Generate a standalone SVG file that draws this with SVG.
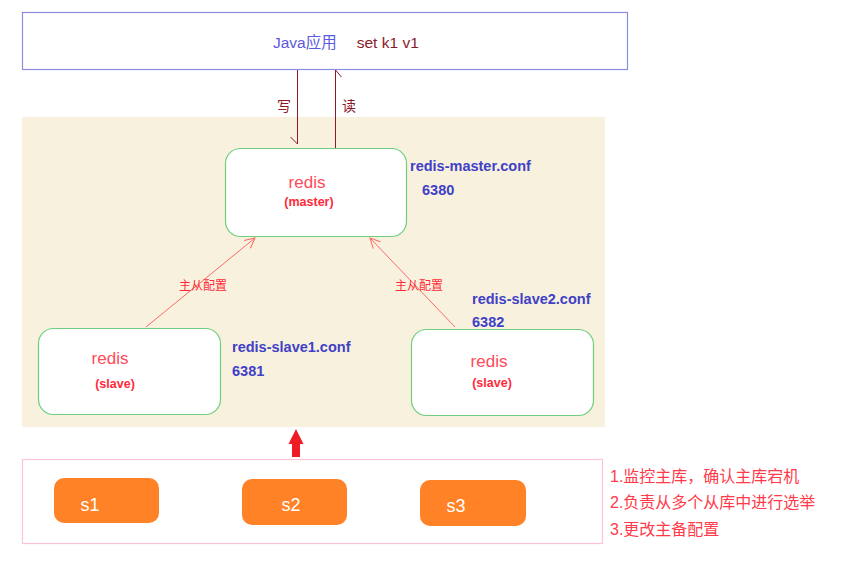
<svg xmlns="http://www.w3.org/2000/svg" width="847" height="567" viewBox="0 0 847 567">
<defs>
<style>
text{font-family:"Liberation Sans","Noto Sans CJK SC",sans-serif}
.node{fill:#fff;stroke:#6fcf7f;stroke-width:1.2}
.redis{fill:#ff4a5a;font-size:17px;text-anchor:middle}
.role{fill:#ff2a3a;font-size:12.5px;font-weight:bold;text-anchor:middle}
.conf{fill:#4040c8;font-size:14.5px;font-weight:bold}
.rel{fill:#ff2a3a;font-size:12px}
.rw{fill:#8b1a2a;font-size:14px}
.sbox{fill:#ff8226}
.stxt{fill:#fff;font-size:18px;text-anchor:middle}
.note{fill:#ff3a4a;font-size:16px}
.link{stroke:#ff6a6a;stroke-width:1;fill:none;marker-end:url(#open)}
.rwline{stroke:#8b1a2a;stroke-width:1;fill:none}
</style>
<marker id="open" markerWidth="12" markerHeight="12" refX="11" refY="6" orient="auto" markerUnits="userSpaceOnUse">
<path d="M1,1 L11,6 L1,11" fill="none" stroke="#ff6a6a" stroke-width="1"/>
</marker>
</defs>
<rect width="847" height="567" fill="#fff"/>
<rect x="22" y="117" width="583" height="310" fill="#f8f1dd"/>
<g id="java">
<rect x="22.5" y="12.5" width="605" height="57" fill="#fff" stroke="#8c8ce0" stroke-width="1.2"/>
<text x="273" y="48" font-size="15.5"><tspan fill="#5a5ae0">Java应用</tspan><tspan fill="#8b1a2a" dx="20">set k1 v1</tspan></text>
</g>
<g id="master">
<rect class="node" x="225.5" y="148.5" width="181" height="88" rx="15"/>
<text class="redis" x="307" y="188">redis</text>
<text class="role" x="309" y="206">(master)</text>
<text class="conf" x="410" y="171">redis-master.conf</text>
<text class="conf" x="422" y="195">6380</text>
</g>
<g id="slave1">
<rect class="node" x="38.5" y="328.5" width="182" height="86" rx="15"/>
<text class="redis" x="110" y="364">redis</text>
<text class="role" x="115" y="388">(slave)</text>
<text class="conf" x="232" y="352">redis-slave1.conf</text>
<text class="conf" x="232" y="376">6381</text>
</g>
<g id="slave2">
<rect class="node" x="411.5" y="329.5" width="182" height="86" rx="15"/>
<text class="redis" x="489" y="367">redis</text>
<text class="role" x="492" y="387">(slave)</text>
<text class="conf" x="472" y="304">redis-slave2.conf</text>
<text class="conf" x="472" y="327">6382</text>
</g>
<g id="connectors">
<path class="rwline" d="M297.5,70 V144 M290.5,137 L297.5,144"/>
<path class="rwline" d="M335.5,148 V70 M335.5,70 L341.5,77"/>
<text class="rw" x="277" y="111">写</text>
<text class="rw" x="342" y="111">读</text>
<line class="link" x1="146" y1="327" x2="255" y2="238"/>
<line class="link" x1="455" y1="327" x2="370" y2="238"/>
<text class="rel" x="179" y="290">主从配置</text>
<text class="rel" x="395" y="290">主从配置</text>
<path d="M296,429 L303.5,444 L300,444 L300,457 L292,457 L292,444 L288.5,444 Z" fill="#ee1c25"/>
</g>
<g id="sentinels">
<rect x="22.5" y="459.5" width="580" height="84" fill="#fff" stroke="#ffc3d3" stroke-width="1.2"/>
<g id="s1"><rect class="sbox" x="54" y="478" width="105" height="45" rx="10"/><text class="stxt" x="90" y="511">s1</text></g>
<g id="s2"><rect class="sbox" x="242" y="479" width="105" height="46" rx="10"/><text class="stxt" x="291" y="511">s2</text></g>
<g id="s3"><rect class="sbox" x="420" y="480" width="106" height="46" rx="10"/><text class="stxt" x="456" y="512">s3</text></g>
</g>
<g id="notes">
<text class="note" x="610" y="482">1.监控主库，确认主库宕机</text>
<text class="note" x="610" y="508">2.负责从多个从库中进行选举</text>
<text class="note" x="610" y="535">3.更改主备配置</text>
</g>
</svg>
